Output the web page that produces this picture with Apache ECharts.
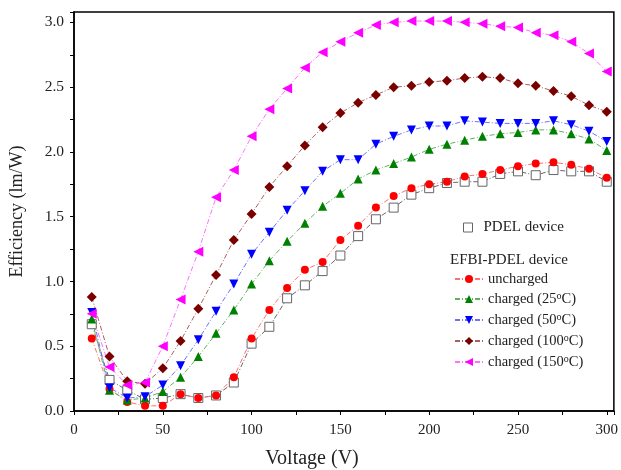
<!DOCTYPE html>
<html>
<head>
<meta charset="utf-8">
<script src="https://cdn.jsdelivr.net/npm/echarts@6/dist/echarts.min.js"></script>
<style>
  html, body { margin: 0; padding: 0; background: #fff; }
  #chart { width: 621px; height: 470px; }
</style>
</head>
<body>
<div id="chart"></div>
<script>
// voltage steps (V)
const voltage = [10, 20, 30, 40, 50, 60, 70, 80, 90, 100, 110, 120, 130, 140, 150,
  160, 170, 180, 190, 200, 210, 220, 230, 240, 250, 260, 270, 280, 290, 300];

// efficiency (lm/W)
const pdel = [0.67, 0.24, 0.16, 0.09, 0.10, 0.13, 0.10, 0.12, 0.22, 0.52, 0.65, 0.87, 0.97, 1.08, 1.20,
  1.35, 1.48, 1.57, 1.67, 1.72, 1.76, 1.77, 1.77, 1.83, 1.85, 1.82, 1.86, 1.85, 1.85, 1.77];
const uncharged = [0.56, 0.17, 0.07, 0.04, 0.04, 0.13, 0.10, 0.12, 0.26, 0.56, 0.78, 0.95, 1.09, 1.15, 1.32,
  1.43, 1.57, 1.66, 1.72, 1.75, 1.77, 1.81, 1.83, 1.86, 1.89, 1.91, 1.92, 1.90, 1.87, 1.80];
const charged25 = [0.71, 0.16, 0.085, 0.10, 0.15, 0.26, 0.42, 0.60, 0.78, 0.98, 1.16, 1.31, 1.45, 1.58, 1.68,
  1.79, 1.86, 1.91, 1.96, 2.02, 2.06, 2.09, 2.12, 2.14, 2.15, 2.17, 2.17, 2.14, 2.10, 2.01];
const charged50 = [0.76, 0.18, 0.10, 0.11, 0.20, 0.35, 0.55, 0.77, 0.98, 1.21, 1.38, 1.55, 1.70, 1.85, 1.94,
  1.94, 2.06, 2.12, 2.17, 2.20, 2.20, 2.24, 2.23, 2.22, 2.22, 2.22, 2.24, 2.21, 2.16, 2.08];
const charged100 = [0.88, 0.42, 0.23, 0.21, 0.33, 0.54, 0.79, 1.05, 1.32, 1.52, 1.73, 1.89, 2.05, 2.19, 2.30,
  2.38, 2.44, 2.50, 2.51, 2.54, 2.55, 2.57, 2.58, 2.57, 2.53, 2.51, 2.47, 2.43, 2.36, 2.31];
const charged150 = [0.75, 0.34, 0.20, 0.22, 0.50, 0.86, 1.23, 1.65, 1.86, 2.12, 2.33, 2.49, 2.65, 2.77, 2.85,
  2.92, 2.98, 3.00, 3.01, 3.01, 3.01, 3.00, 2.99, 2.97, 2.96, 2.92, 2.90, 2.85, 2.76, 2.62];

const names = ['uncharged', 'charged (25°C)', 'charged (50°C)', 'charged (100°C)', 'charged (150°C)'];

const serif = 'Liberation Serif';
const dashDot = [5, 2, 1, 2];

function pairs(arr) {
  return voltage.map((v, i) => [v, arr[i]]);
}

function makeSeries(name, arr, symbol, color, lineColor, size, rotate) {
  return {
    name: name,
    type: 'line',
    data: pairs(arr),
    symbol: symbol,
    symbolSize: size,
    symbolRotate: rotate || 0,
    itemStyle: { color: color },
    lineStyle: { color: lineColor, width: 1, type: dashDot },
    emphasis: { disabled: true }
  };
}

let myChart = echarts.init(document.getElementById('chart'));

const option = {
  animation: false,
  grid: {
    left: 73, right: 3, top: 12, bottom: 59,
    show: true, borderColor: '#000', borderWidth: 1.5
  },
  xAxis: {
    type: 'value',
    min: 0, max: 304, interval: 50,
    axisLine: { lineStyle: { color: '#000', width: 1.5 } },
    axisTick: { length: 4, lineStyle: { color: '#000' } },
    minorTick: { show: true, splitNumber: 2, length: 4, lineStyle: { color: '#000' } },
    splitLine: { show: false },
    axisLabel: { fontFamily: serif, fontSize: 15, color: '#222', margin: 12, showMaxLabel: false },
  },
  yAxis: {
    type: 'value',
    min: 0, max: 3.08, interval: 0.5,
    name: 'Efficiency (lm/W)',
    nameLocation: 'middle',
    nameGap: 48,
    nameTextStyle: { fontFamily: serif, fontSize: 18, color: '#222' },
    axisLine: { show: true, lineStyle: { color: '#000', width: 1.5 } },
    axisTick: { show: true, length: 4, lineStyle: { color: '#000' } },
    minorTick: { show: true, splitNumber: 2, length: 4, lineStyle: { color: '#000' } },
    splitLine: { show: false },
    axisLabel: {
      fontFamily: serif, fontSize: 15.5, color: '#222', margin: 10, showMaxLabel: false,
      formatter: v => v.toFixed(1)
    }
  },
  legend: [
    {
      left: 458, top: 215,
      itemWidth: 9, itemHeight: 9,
      textStyle: { fontFamily: serif, fontSize: 15, color: '#222', padding: [0, 0, 0, 6] },
      data: [{ name: 'PDEL device', icon: 'rect', itemStyle: { color: '#fff', borderColor: '#666', borderWidth: 1 } }]
    },
    {
      left: 449, top: 266,
      orient: 'vertical',
      itemWidth: 28, itemHeight: 10, itemGap: 4,
      textStyle: {
        fontFamily: serif, fontSize: 14.5, color: '#222', lineHeight: 16,
        rich: { sup: { fontFamily: serif, fontSize: 10, lineHeight: 16, verticalAlign: 'top', padding: [0, 0, 7, 0] } }
      },
      formatter: n => n.replace('°', '{sup|o}'),
      data: names
    }
  ],
  graphic: [
    {
      type: 'text', left: 450, top: 253,
      style: { text: 'EFBI-PDEL device', font: '15px "Liberation Serif"', fill: '#222' }
    },
    {
      type: 'text', x: 312, y: 459,
      style: { text: 'Voltage (V)', font: '20px "Liberation Serif"', fill: '#222', textAlign: 'center', textVerticalAlign: 'middle' }
    }
  ],
  series: [
    makeSeries('PDEL device', pdel, 'rect', '#fff', '#666', 9),
    makeSeries(names[0], uncharged, 'circle', '#ff0000', '#ff7070', 8),
    makeSeries(names[1], charged25, 'triangle', '#008000', '#60b060', 9),
    makeSeries(names[2], charged50, 'triangle', '#0000ff', '#7070ff', 9, 180),
    makeSeries(names[3], charged100, 'diamond', '#7a0000', '#a86060', 10),
    makeSeries(names[4], charged150, 'triangle', '#ff00ff', '#ff70ff', 10, 90)
  ]
};
option.series[0].itemStyle = { color: '#fff', borderColor: '#666', borderWidth: 1 };

myChart.setOption(option);
</script>
</body>
</html>
